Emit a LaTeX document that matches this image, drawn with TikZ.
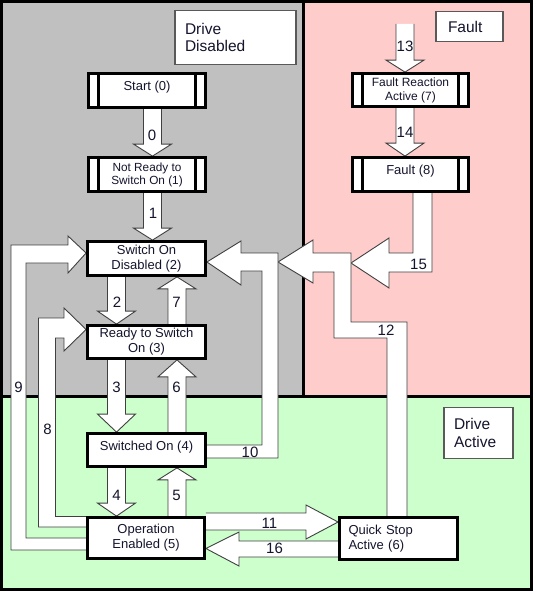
\documentclass[tikz,border=0pt]{standalone}
\usepackage{fontspec}
\setmainfont{Liberation Sans}
\usetikzlibrary{calc}
\definecolor{offgray}{RGB}{192,192,192}
\definecolor{faultpink}{RGB}{255,204,204}
\definecolor{activegreen}{RGB}{204,255,204}
\definecolor{edgegray}{RGB}{64,64,64}
\definecolor{ink}{RGB}{20,20,45}
\pgfdeclarelayer{zone}
\pgfdeclarelayer{flow}
\pgfsetlayers{zone,flow,main}

\newcommand{\vdown}[4]{%
\filldraw[blk] let \p1=(#1), \p2=(#2) in
  ({(#3-9)*1pt},\y1) -- ({(#3-9)*1pt},{\y2+#4pt}) -- ({(#3-19)*1pt},{\y2+#4pt}) -- ({#3*1pt},\y2)
  -- ({(#3+19)*1pt},{\y2+#4pt}) -- ({(#3+9)*1pt},{\y2+#4pt}) -- ({(#3+9)*1pt},\y1);}
\newcommand{\vup}[4]{%
\filldraw[blk] let \p1=(#1), \p2=(#2) in
  ({(#3-9)*1pt},\y1) -- ({(#3-9)*1pt},{\y2-#4pt}) -- ({(#3-19)*1pt},{\y2-#4pt}) -- ({#3*1pt},\y2)
  -- ({(#3+19)*1pt},{\y2-#4pt}) -- ({(#3+9)*1pt},{\y2-#4pt}) -- ({(#3+9)*1pt},\y1);}

\begin{document}
\begin{tikzpicture}[x=1pt,y=-1pt,
  every node/.style={text=ink},
  state/.style={draw=black,line width=2.8pt,fill=white,align=center,inner sep=0pt,
    font=\fontsize{13}{15}\selectfont},
  proc/.style={state,path picture={
    \draw[line width=2.6pt] ([xshift=10pt]path picture bounding box.north west) -- ([xshift=10pt]path picture bounding box.south west)
      ([xshift=-10pt]path picture bounding box.north east) -- ([xshift=-10pt]path picture bounding box.south east);}},
  raised/.style={text depth=9pt},
  zonelabel/.style={draw=black!65,line width=1.2pt,fill=white,align=left,inner ysep=0pt,
    font=\fontsize{15.5}{17.5}\selectfont},
  blk/.style={fill=white,draw=edgegray,line width=0.9pt,line join=miter},
  num/.style={inner sep=0pt,font=\fontsize{15}{15}\selectfont}]
\useasboundingbox (0,0) rectangle (536,594);

\begin{pgfonlayer}{zone}
\draw[line width=3pt,fill=offgray] (1.5,1.5) rectangle (303,396);
\draw[line width=3pt,fill=faultpink] (303,1.5) rectangle (531,396);
\draw[line width=3pt,fill=activegreen] (1.5,396) rectangle (531,589.5);
\end{pgfonlayer}

\node[zonelabel,text width=101pt,inner xsep=10pt,minimum height=54pt] (zdis) at (235.5,37.5) {Drive\\Disabled};
\node[zonelabel,text width=43pt,inner xsep=12pt,minimum height=30pt] (zfault) at (469.5,26.5) {Fault};
\node[zonelabel,text width=49pt,inner xsep=10pt,minimum height=51pt] (zact) at (478.5,433) {Drive\\Active};

\node[proc,raised,minimum width=117pt,minimum height=34pt] (s0) at (147,90.5) {Start (0)};
\node[proc,minimum width=117pt,minimum height=34pt,font=\fontsize{11.8}{13}\selectfont] (s1) at (147,174.5) {Not Ready to\\Switch On (1)};
\node[state,minimum width=118pt,minimum height=34pt] (s2) at (146.5,258.5) {Switch On\\Disabled (2)};
\node[state,minimum width=118pt,minimum height=33pt] (s3) at (146.5,342) {Ready to Switch\\On (3)};
\node[state,raised,minimum width=118pt,minimum height=33pt] (s4) at (146.5,450) {Switched On (4)};
\node[state,minimum width=117pt,minimum height=41pt] (s5) at (146,538) {Operation\\Enabled (5)};
\node[state,align=left,text width=100pt,inner xsep=9pt,minimum height=42pt] (s6) at (398.5,538.5) {Quick Stop\\Active (6)};
\node[proc,minimum width=116pt,minimum height=33pt,font=\fontsize{12}{14}\selectfont] (s7) at (410.5,90) {Fault Reaction\\Active (7)};
\node[proc,raised,minimum width=116pt,minimum height=34pt] (s8) at (410.5,174.5) {Fault (8)};

\coordinate (in13) at (405,24);
\coordinate (j15) at (351,263);
\coordinate (j12) at (278,262);

\begin{pgfonlayer}{flow}
\vdown{s0.south}{s1.north}{152.5}{12}
\vdown{s1.south}{s2.north}{152.5}{12}
\vdown{s2.south}{s3.north}{116.5}{13}
\vup{s3.north}{s2.south}{177}{12}
\vdown{s3.south}{s4.north}{116.5}{18}
\vup{s4.north}{s3.south}{177}{17}
\vdown{s4.south}{s5.north}{116.5}{13}
\vup{s5.north}{s4.south}{177}{12}
\vdown{in13}{s7.north}{405}{12}
\vdown{s7.south}{s8.north}{405}{13}
\filldraw[blk] (413,0 |- s8.south) -- (413,253) -- (389,253) -- (389,238) -- (j15) -- (389,288) -- (389,272) -- (432,272) -- (432,0 |- s8.south);
\filldraw[blk] (387,0 |- s6.north) -- (387,338) -- (334,338) -- (334,272) -- (313,272) -- (313,283) -- (j12) -- (313,240) -- (313,253) -- (351,253) -- (351,322) -- (407,322) -- (407,0 |- s6.north);
\filldraw[blk] (s4.east |- 0,445) -- (262,445) -- (262,271) -- (241,271) -- (241,285) -- (s2.east |- 0,262) -- (241,241) -- (241,253) -- (278,253) -- (278,458) -- (s4.east |- 0,458);
\filldraw[blk] (s5.west |- 0,550) -- (11,550) -- (11,245) -- (68,245) -- (68,236) -- (s2.west |- 0,253) -- (68,273) -- (68,263) -- (26,263) -- (26,538) -- (s5.west |- 0,538);
\filldraw[blk] (s5.west |- 0,527) -- (38.5,527) -- (38.5,318) -- (64,318) -- (64,308) -- (s3.west |- 0,329.5) -- (64,351) -- (64,338) -- (55.5,338) -- (55.5,516.5) -- (s5.west |- 0,516.5);
\filldraw[blk] (s5.east |- 0,513) -- (306,513) -- (306,505) -- (s6.west |- 0,522) -- (306,539) -- (306,530) -- (s5.east |- 0,530);
\filldraw[blk] (s6.west |- 0,541) -- (239,541) -- (239,532) -- (s5.east |- 0,548.5) -- (239,566) -- (239,557) -- (s6.west |- 0,557);
\end{pgfonlayer}

\node[num] (n0) at (152,135) {0};
\node[num] (n1) at (153,213) {1};
\node[num] (n2) at (117,302) {2};
\node[num] (n7) at (176.5,302) {7};
\node[num] (n3) at (116.5,387) {3};
\node[num] (n6) at (176.5,387) {6};
\node[num] (n4) at (116.5,495) {4};
\node[num] (n5) at (176.5,495) {5};
\node[num] (n13) at (405,46) {13};
\node[num] (n14) at (405,132) {14};
\node[num] (n15) at (418.5,264) {15};
\node[num] (n12) at (386,330.5) {12};
\node[num] (n10) at (250,452) {10};
\node[num] (n9) at (18.5,387) {9};
\node[num] (n8) at (47.5,429) {8};
\node[num] (n11) at (269.5,523) {11};
\node[num] (n16) at (274.5,548.5) {16};
\end{tikzpicture}
\end{document}
